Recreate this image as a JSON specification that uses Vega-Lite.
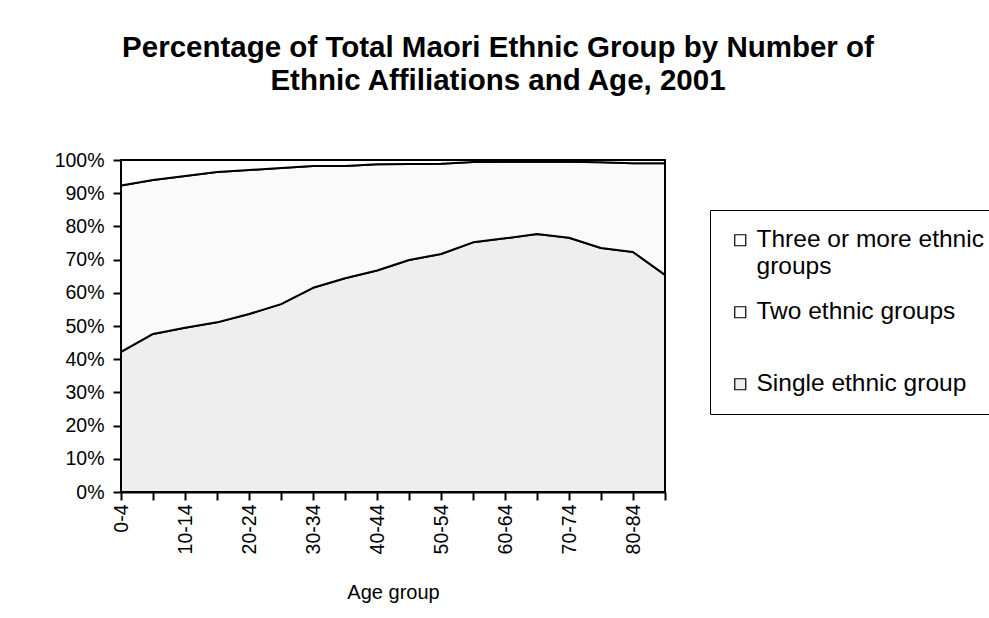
{
  "$schema": "https://vega.github.io/schema/vega-lite/v6.json",
  "autosize": {"type": "none"},
  "width": 544,
  "height": 332,
  "padding": {"left": 121, "top": 160, "right": 324, "bottom": 126},
  "background": "white",
  "title": {
    "text": ["Percentage of Total Maori Ethnic Group by Number of", "Ethnic Affiliations and Age, 2001"],
    "anchor": "middle",
    "frame": "group",
    "dx": 105,
    "offset": 54,
    "font": "Liberation Sans",
    "fontSize": 29.5,
    "fontWeight": "bold",
    "color": "black",
    "lineHeight": 33
  },
  "data": {
    "values": [
      {"age": "0-4", "Single ethnic group": 42.2, "Two ethnic groups": 50.1, "Three or more ethnic groups": 7.7},
      {"age": "5-9", "Single ethnic group": 47.6, "Two ethnic groups": 46.4, "Three or more ethnic groups": 6.0},
      {"age": "10-14", "Single ethnic group": 49.5, "Two ethnic groups": 45.7, "Three or more ethnic groups": 4.8},
      {"age": "15-19", "Single ethnic group": 51.1, "Two ethnic groups": 45.3, "Three or more ethnic groups": 3.6},
      {"age": "20-24", "Single ethnic group": 53.6, "Two ethnic groups": 43.4, "Three or more ethnic groups": 3.0},
      {"age": "25-29", "Single ethnic group": 56.6, "Two ethnic groups": 41.0, "Three or more ethnic groups": 2.4},
      {"age": "30-34", "Single ethnic group": 61.5, "Two ethnic groups": 36.7, "Three or more ethnic groups": 1.8},
      {"age": "35-39", "Single ethnic group": 64.4, "Two ethnic groups": 33.8, "Three or more ethnic groups": 1.8},
      {"age": "40-44", "Single ethnic group": 66.7, "Two ethnic groups": 32.0, "Three or more ethnic groups": 1.3},
      {"age": "45-49", "Single ethnic group": 69.9, "Two ethnic groups": 28.9, "Three or more ethnic groups": 1.2},
      {"age": "50-54", "Single ethnic group": 71.7, "Two ethnic groups": 27.2, "Three or more ethnic groups": 1.1},
      {"age": "55-59", "Single ethnic group": 75.2, "Two ethnic groups": 24.2, "Three or more ethnic groups": 0.6},
      {"age": "60-64", "Single ethnic group": 76.4, "Two ethnic groups": 23.1, "Three or more ethnic groups": 0.5},
      {"age": "65-69", "Single ethnic group": 77.7, "Two ethnic groups": 21.8, "Three or more ethnic groups": 0.5},
      {"age": "70-74", "Single ethnic group": 76.6, "Two ethnic groups": 22.9, "Three or more ethnic groups": 0.5},
      {"age": "75-79", "Single ethnic group": 73.5, "Two ethnic groups": 25.8, "Three or more ethnic groups": 0.7},
      {"age": "80-84", "Single ethnic group": 72.3, "Two ethnic groups": 26.7, "Three or more ethnic groups": 1.0},
      {"age": "85+", "Single ethnic group": 65.4, "Two ethnic groups": 33.6, "Three or more ethnic groups": 1.0}
    ]
  },
  "transform": [
    {"fold": ["Single ethnic group", "Two ethnic groups", "Three or more ethnic groups"], "as": ["group", "pct"]},
    {"calculate": "indexof(['Single ethnic group', 'Two ethnic groups', 'Three or more ethnic groups'], datum.group)", "as": "stackRank"}
  ],
  "mark": {"type": "area", "stroke": "black", "strokeWidth": 2, "strokeJoin": "round", "opacity": 1},
  "encoding": {
    "x": {
      "field": "age",
      "type": "ordinal",
      "sort": null,
      "scale": {"type": "point", "padding": 0},
      "axis": {
        "title": "Age group",
        "labelAngle": -90,
        "labelAlign": "right",
        "labelBaseline": "middle",
        "labelPadding": 4,
        "labelExpr": "indexof(['0-4','10-14','20-24','30-34','40-44','50-54','60-64','70-74','80-84'], datum.value) >= 0 ? datum.label : ''",
        "labelOverlap": false,
        "titlePadding": 29,
        "titleFontSize": 20
      }
    },
    "y": {
      "field": "pct",
      "type": "quantitative",
      "stack": "normalize",
      "scale": {"domain": [0, 1], "nice": false},
      "axis": {
        "title": null,
        "format": ".0%",
        "values": [0, 0.1, 0.2, 0.3, 0.4, 0.5, 0.6, 0.7, 0.8, 0.9, 1.0],
        "labelPadding": 9
      }
    },
    "color": {
      "field": "group",
      "type": "nominal",
      "scale": {
        "domain": ["Three or more ethnic groups", "Two ethnic groups", "Single ethnic group"],
        "range": ["#ffffff", "#fafafa", "#eeeeee"]
      },
      "legend": {
        "title": null,
        "orient": "none",
        "legendX": 589,
        "legendY": 50,
        "gridAlign": "all",
        "symbolType": "square",
        "symbolSize": 121,
        "symbolStrokeColor": "black",
        "symbolStrokeWidth": 1.2,
        "symbolFillColor": "white",
        "labelFont": "Liberation Sans",
        "labelFontSize": 24.5,
        "labelColor": "black",
        "labelLimit": 400,
        "labelOffset": 4,
        "rowPadding": 20,
        "padding": 18,
        "strokeColor": "black",
        "fillColor": "white",
        "labelExpr": "datum.label == 'Three or more ethnic groups' ? ['Three or more ethnic', 'groups'] : datum.label"
      }
    },
    "order": {"field": "stackRank", "type": "quantitative"}
  },
  "config": {
    "view": {"stroke": "black", "strokeWidth": 2, "fill": "white"},
    "axis": {
      "domainColor": "black",
      "domainWidth": 2,
      "tickColor": "black",
      "tickWidth": 2,
      "tickSize": 8,
      "grid": false,
      "labelFont": "Liberation Sans",
      "labelFontSize": 19.5,
      "labelColor": "black",
      "titleFont": "Liberation Sans",
      "titleFontSize": 19,
      "titleFontWeight": "normal",
      "titleColor": "black"
    }
  }
}
